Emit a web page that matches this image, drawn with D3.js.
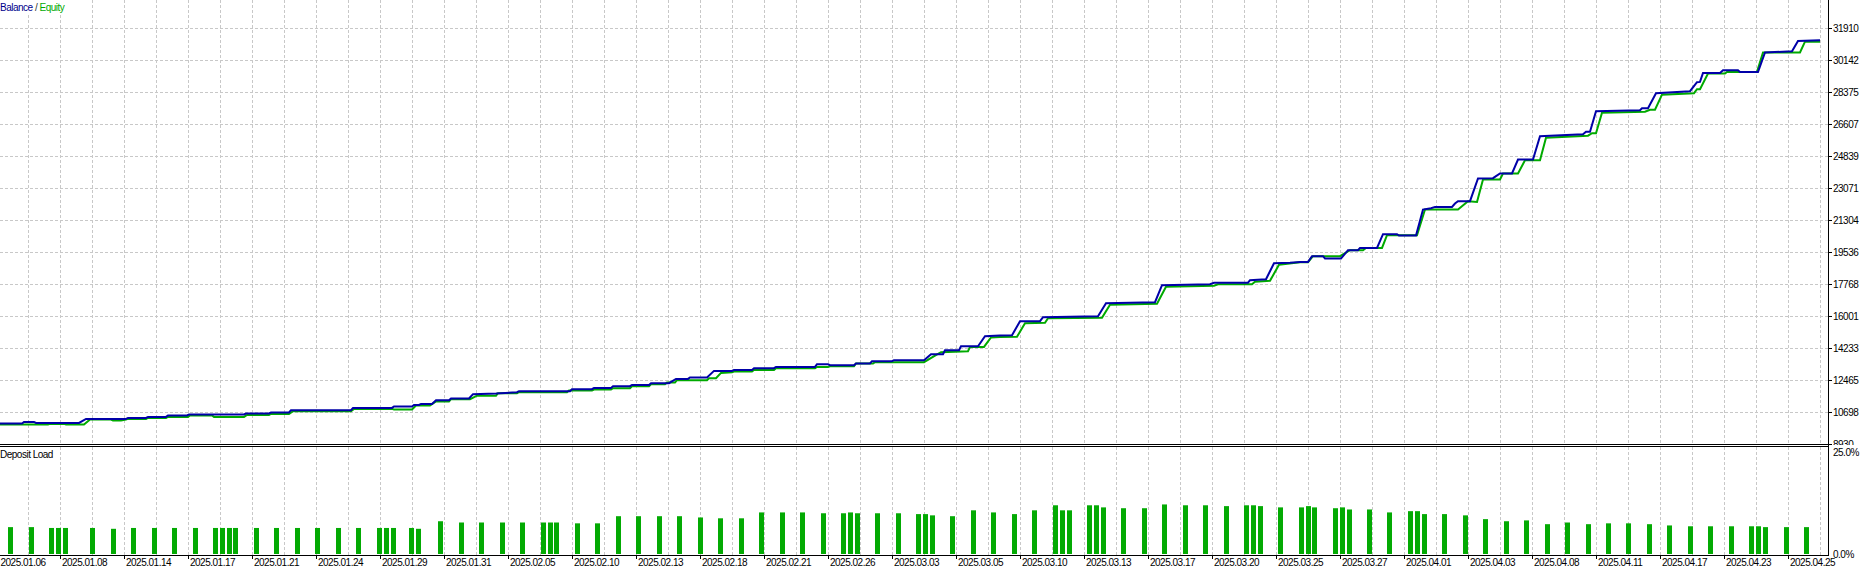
<!DOCTYPE html>
<html><head><meta charset="utf-8">
<script src="https://cdn.jsdelivr.net/npm/d3@7"></script>
<style>
body{margin:0;background:#fff}
svg{display:block}
text{font-family:"Liberation Sans",Arial,sans-serif;font-size:10px;letter-spacing:-0.5px;fill:#000}
</style>
</head><body>
<svg id="c" width="1875" height="568"></svg>
<script>
// ---------- DATA ----------
const dates = ["2025.01.06","2025.01.08","2025.01.14","2025.01.17","2025.01.21","2025.01.24","2025.01.29","2025.01.31","2025.02.05","2025.02.10","2025.02.13","2025.02.18","2025.02.21","2025.02.26","2025.03.03","2025.03.05","2025.03.10","2025.03.13","2025.03.17","2025.03.20","2025.03.25","2025.03.27","2025.04.01","2025.04.03","2025.04.08","2025.04.11","2025.04.17","2025.04.23","2025.04.25"];
const valueTicks = [31910,30142,28375,26607,24839,23071,21304,19536,17768,16001,14233,12465,10698,8930];
const loadTicks = [25, 0];
const loadTickLabels = ["25.0%", "0.0%"];

// chart position index (64 per date label)
const balancePos = [4,26,28,38,40,83,90,130,132,150,152,170,172,191,193,248,250,273,275,293,295,355,357,396,398,416,418,423,425,436,440,453,455,473,477,500,521,523,574,576,596,598,615,617,634,636,653,655,673,680,692,694,711,718,736,738,756,758,778,780,819,821,832,834,858,860,874,876,896,898,928,935,947,949,963,965,982,989,1004,1016,1024,1044,1047,1102,1110,1159,1166,1214,1218,1252,1254,1270,1278,1294,1304,1312,1316,1327,1329,1345,1352,1362,1364,1381,1387,1401,1403,1420,1427,1435,1439,1456,1459,1462,1474,1482,1497,1504,1516,1522,1537,1544,1587,1590,1594,1600,1644,1646,1652,1660,1694,1701,1704,1707,1724,1727,1742,1744,1762,1769,1796,1802,1824];
const balanceVal = [10090,10090,10178,10178,10123,10123,10344,10344,10399,10399,10455,10455,10532,10532,10587,10587,10642,10642,10698,10698,10825,10825,10952,10952,11029,11029,11118,11118,11173,11173,11377,11377,11471,11471,11709,11747,11819,11874,11874,11985,11985,12057,12057,12151,12151,12222,12222,12316,12316,12554,12554,12631,12631,12996,12996,13051,13051,13145,13145,13217,13217,13366,13366,13311,13311,13404,13404,13531,13531,13587,13587,13918,13918,14139,14139,14360,14360,14912,14951,14968,15741,15741,15962,16017,16735,16791,17730,17785,17868,17868,18006,18061,18945,18973,19017,19017,19332,19332,19205,19205,19663,19663,19790,19790,20547,20547,20475,20475,21911,21983,22055,22055,22243,22370,22370,23624,23641,23900,23900,24673,24673,25960,26071,26209,26209,27342,27397,27507,27507,28336,28446,28943,28960,29457,29457,29606,29606,29512,29512,30584,30656,31225,31264];

const equityPos = [4,52,54,68,70,88,94,115,117,125,130,132,150,152,170,172,192,194,216,218,248,251,273,275,293,297,355,358,396,398,416,420,434,440,453,455,474,481,500,502,521,523,571,573,596,598,615,617,634,636,653,655,669,671,679,681,711,713,720,725,736,738,756,758,778,780,819,821,832,834,858,860,877,879,928,939,945,972,974,988,995,1004,1021,1029,1049,1052,1106,1114,1161,1170,1218,1222,1256,1259,1274,1283,1304,1312,1317,1344,1354,1367,1370,1386,1391,1421,1429,1462,1472,1481,1487,1504,1507,1522,1529,1544,1550,1592,1596,1600,1606,1649,1654,1659,1666,1698,1701,1704,1712,1729,1731,1761,1767,1804,1809,1824];
const equityVal = [10035,10035,10068,10068,10035,10035,10311,10311,10256,10256,10311,10344,10344,10399,10399,10455,10455,10532,10532,10455,10455,10565,10565,10620,10620,10769,10769,10897,10897,10863,10863,11084,11084,11305,11305,11432,11432,11626,11626,11764,11764,11819,11819,11913,11913,11968,11968,12040,12040,12151,12151,12261,12261,12355,12355,12482,12482,12592,12592,12885,12924,12963,12963,13051,13051,13145,13145,13217,13217,13255,13255,13404,13404,13476,13476,13835,14029,14084,14321,14321,14841,14874,14885,15631,15658,15907,15934,16653,16708,17647,17702,17785,17785,17923,17978,18862,19000,19000,19332,19332,19663,19663,19790,19790,20492,20492,21911,21911,22370,22331,23569,23569,23900,23900,24635,24635,25878,25988,26126,26126,27259,27314,27424,27424,28253,28336,28557,28557,29424,29424,29512,29512,30584,30584,31181,31181];

const loadPos = [14,35,55,62,69,96,117,137,158,178,199,219,226,233,239,260,280,301,321,342,362,383,390,397,415,422,444,465,485,506,526,547,554,560,581,601,622,642,663,683,704,724,745,765,786,806,827,847,854,861,881,902,922,929,936,956,977,997,1018,1038,1059,1066,1073,1093,1100,1107,1127,1148,1168,1189,1209,1230,1250,1257,1264,1284,1305,1312,1318,1339,1346,1353,1373,1393,1414,1421,1428,1448,1469,1489,1510,1530,1551,1571,1592,1612,1632,1653,1673,1694,1714,1735,1755,1762,1769,1790,1810];
const loadPct = [6.4,6.4,6.2,6.2,6.2,6.2,6.0,6.2,6.2,6.2,6.2,6.2,6.2,6.2,6.2,6.2,6.2,6.2,6.2,6.2,6.2,6.2,6.2,6.2,6.2,6.0,7.8,7.5,7.5,7.5,7.5,7.5,7.5,7.5,7.3,7.3,9.0,9.0,9.0,9.0,8.7,8.5,8.5,9.9,9.9,9.9,9.7,9.7,9.9,9.7,9.7,9.7,9.5,9.5,9.2,9.0,10.4,9.9,9.5,10.4,11.6,10.4,10.4,11.6,11.6,11.1,10.9,10.9,11.8,11.6,11.6,11.4,11.6,11.6,11.4,11.1,11.1,11.4,11.1,10.9,11.1,10.6,10.6,9.9,10.2,10.2,9.5,9.5,9.2,8.3,7.8,8.0,7.1,7.5,7.1,7.3,7.3,7.1,6.8,6.6,6.6,6.6,6.6,6.6,6.4,6.4,6.4];

// ---------- CHART ----------
const svg = d3.select("#c");
const axisX = 1828, topBottom = 444, botTop = 446, botBottom = 555;
const x = d3.scaleLinear().domain([0, 1832]).range([-4, axisX]);
const y = d3.scaleLinear().domain([8930, 31910]).range([444.5, 28.5]);
const yl = d3.scaleLinear().domain([0, 25]).range([554, 449]);
const gridColor = "#c8c8c8";
const lineBlue = "#0000a8", lineGreen = "#00aa00", barGreen = "#03aa03";

svg.append("rect").attr("width", 1875).attr("height", 568).attr("fill", "#fff");

const defs = svg.append("defs");
defs.append("clipPath").attr("id", "topclip").append("rect")
  .attr("x", 0).attr("y", 0).attr("width", axisX).attr("height", topBottom);
defs.append("clipPath").attr("id", "toplab").append("rect")
  .attr("x", axisX).attr("y", 0).attr("width", 60).attr("height", topBottom + 1);

// vertical grid (every half label interval)
const gridPos = d3.range(32, 1832, 32);
const g = svg.append("g").attr("stroke", gridColor).attr("stroke-width", 1).attr("stroke-dasharray", "3,2");
gridPos.forEach(p => {
  const xx = Math.round(x(p)) + 0.5;
  g.append("line").attr("x1", xx).attr("x2", xx).attr("y1", 0).attr("y2", topBottom);
  g.append("line").attr("x1", xx).attr("x2", xx).attr("y1", botTop + 1).attr("y2", botBottom);
});
valueTicks.filter(v => v !== 8930).forEach(v => {
  g.append("line").attr("x1", 0).attr("x2", axisX).attr("y1", y(v)).attr("y2", y(v));
});

// deposit load bars
svg.append("g").selectAll("rect").data(loadPos).join("rect")
  .attr("x", d => x(d) - 2).attr("width", 5)
  .attr("y", (d, i) => yl(loadPct[i]))
  .attr("height", (d, i) => yl(0) - yl(loadPct[i]))
  .attr("fill", barGreen);

// lines
const line = d3.line().x(d => x(d[0])).y(d => y(d[1]));
const lg = svg.append("g").attr("clip-path", "url(#topclip)");
lg.append("path").datum(equityPos.map((p, i) => [p, equityVal[i]]))
  .attr("d", line).attr("fill", "none").attr("stroke", lineGreen).attr("stroke-width", 2).attr("stroke-linejoin", "miter");
lg.append("path").datum(balancePos.map((p, i) => [p, balanceVal[i]]))
  .attr("d", line).attr("fill", "none").attr("stroke", lineBlue).attr("stroke-width", 2).attr("stroke-linejoin", "miter");

// frame lines
const fr = svg.append("g").attr("stroke", "#000").attr("stroke-width", 1);
fr.append("line").attr("x1", 0).attr("x2", axisX).attr("y1", topBottom + 0.5).attr("y2", topBottom + 0.5);
fr.append("line").attr("x1", 0).attr("x2", axisX).attr("y1", botTop + 0.5).attr("y2", botTop + 0.5);
fr.append("line").attr("x1", 0).attr("x2", axisX).attr("y1", botBottom + 0.5).attr("y2", botBottom + 0.5);
fr.append("line").attr("x1", axisX + 0.5).attr("x2", axisX + 0.5).attr("y1", 0).attr("y2", botBottom + 1);

// right value axis
const ra = svg.append("g").attr("clip-path", "url(#toplab)");
valueTicks.forEach(v => {
  ra.append("line").attr("x1", axisX + 1).attr("x2", axisX + 4).attr("y1", y(v)).attr("y2", y(v)).attr("stroke", "#000");
  ra.append("text").attr("x", axisX + 5).attr("y", y(v) + 3.5).text(String(v));
});
loadTicks.forEach((v, i) => {
  svg.append("text").attr("x", axisX + 5).attr("y", Math.max(yl(v) + 3.5, 456)).text(loadTickLabels[i]);
});

// bottom date axis
dates.forEach((d, i) => {
  const xx = Math.round(x(i * 64)) + 0.5;
  if (xx > 0) svg.append("line").attr("x1", xx).attr("x2", xx).attr("y1", botBottom + 1).attr("y2", botBottom + 4).attr("stroke", "#000");
  svg.append("text").attr("x", Math.max(xx + 1.5, 0.5)).attr("y", 566).text(d);
});

// legends
svg.append("rect").attr("x", 0).attr("y", 0).attr("width", 66).attr("height", 13).attr("fill", "#fff");
const lt = svg.append("text").attr("x", 0).attr("y", 10.5);
lt.append("tspan").style("fill", "#00008b").text("Balance");
lt.append("tspan").style("fill", "#333").text(" / ");
lt.append("tspan").style("fill", "#00aa00").text("Equity");

svg.append("rect").attr("x", 0).attr("y", botTop + 1).attr("width", 53).attr("height", 12).attr("fill", "#fff");
svg.append("text").attr("x", 0).attr("y", 458).text("Deposit Load");
</script>
</body></html>
